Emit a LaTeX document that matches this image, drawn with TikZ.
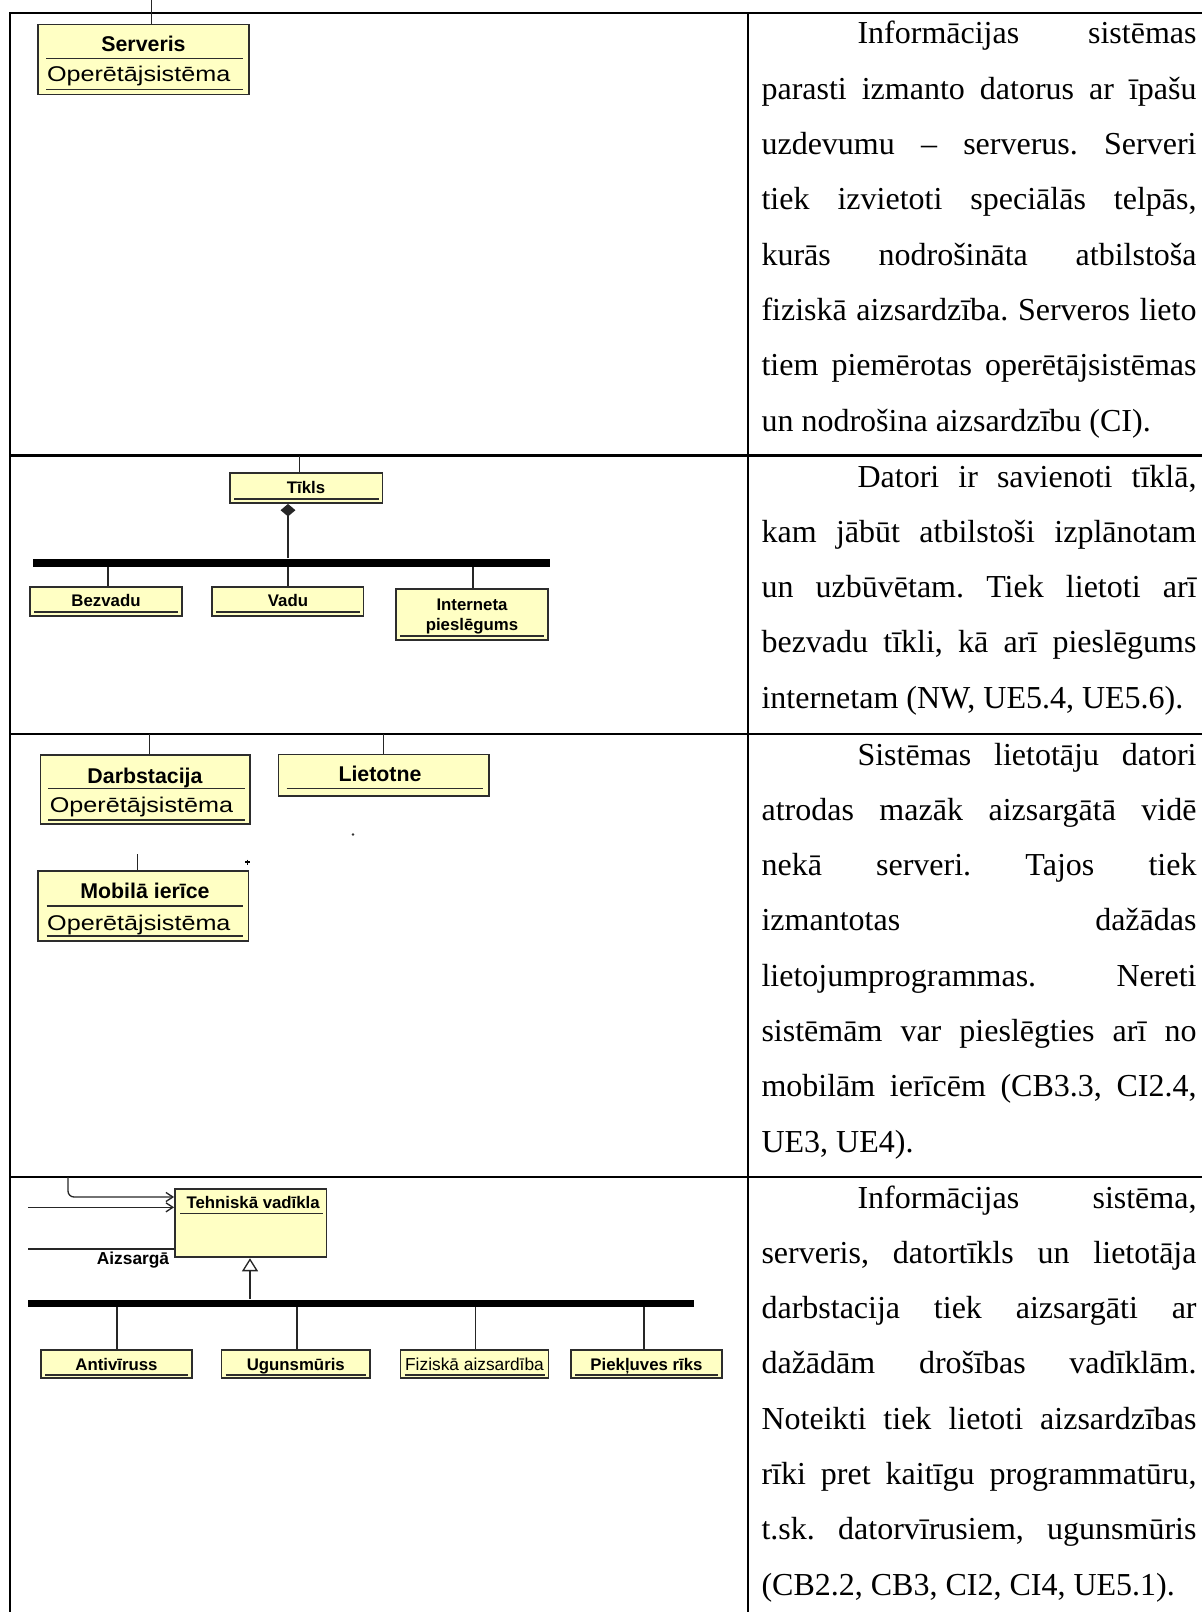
\documentclass[tikz,border=0pt]{standalone}
\usepackage{fontspec}
\setmainfont{Liberation Serif}
\newfontfamily\umlsans{Liberation Sans}
\newfontfamily\umlwide[FakeStretch=1.18]{Liberation Sans}
\usetikzlibrary{arrows.meta,fit,calc}

\definecolor{umlfill}{RGB}{255,255,196}
\definecolor{umledge}{RGB}{45,45,45}

\tikzset{
  umlbox/.style={draw=umledge, fill=umlfill, line width=0.7pt, inner sep=0pt},
  umlsep/.style={draw=umledge, line width=0.5pt},
  conn/.style={draw=black!85, line width=0.5pt},
  rule/.style={draw=black, line width=0.9pt},
  bus/.style={fill=black, inner sep=0pt},
  ttl/.style={font=\umlsans\bfseries\fontsize{8pt}{9pt}\selectfont, anchor=base, inner sep=0pt},
  attr/.style={font=\umlwide\fontsize{8pt}{9pt}\selectfont, anchor=base west, inner sep=0pt},
  lbl/.style={font=\umlsans\bfseries\fontsize{6.3pt}{7.5pt}\selectfont, anchor=base, inner sep=0pt},
  lblreg/.style={font=\umlsans\fontsize{6.5pt}{7.5pt}\selectfont, anchor=base, inner sep=0pt},
  para/.style={anchor=base west, inner sep=0pt},
  barb/.style={-{Straight Barb[length=2.6pt,width=3.4pt]}},
}

% box node spanning two corner points
\newcommand\umlrect[3]{\path #2 coordinate (#1-nw) #3 coordinate (#1-se);
  \node[umlbox, fit=(#1-nw)(#1-se)] (#1) {};}
\newcommand\busbar[3]{\path #2 coordinate (#1-nw) #3 coordinate (#1-se);
  \node[bus, fit=(#1-nw)(#1-se)] (#1) {};}
% justified body paragraph of the right column
\newcommand\bodytext[1]{\parbox[t]{163.125pt}{\fontsize{12pt}{20.74pt}\selectfont
  \frenchspacing\tolerance=10000\hbadness=10000\hyphenpenalty=10000\hspace*{36pt}#1}}

\begin{document}
\begin{tikzpicture}[x=0.375pt, y=-0.375pt]
\useasboundingbox (0,0) rectangle (1202,1612);

% table rules
\draw[rule] (10,1612) -- (10,13) -- (1202,13);
\draw[rule] (748,13) -- (748,1612);
\draw[rule] (10,455.5) -- (1202,455.5);
\draw[rule] (10,734) -- (1202,734);
\draw[rule] (10,1177) -- (1202,1177);

% ---- row 1: server
\umlrect{srv}{(38,24.5)}{(249,94.5)}
\draw[umlsep] (46,58.7) -- (243,58.7);
\draw[umlsep] (46,89.3) -- (243,89.3);
\node[ttl] (srv-t) at (143.5,52) {Serveris};
\node[attr] (srv-a) at (46.5,82) {Operētājsistēma};
\coordinate (srv-in) at (151.7,0);
\draw[conn] (srv-in) -- (srv-in |- srv.north);

% ---- row 2: network
\coordinate (net-in) at (299.5,455.5);
\umlrect{net}{(230,473)}{(382.5,503)}
\draw[umlsep] (234,499) -- (379,499);
\node[lbl] (net-t) at (306,493.3) {Tīkls};
\draw[conn] (net-in) -- (net-in |- net.north);
\busbar{bus2}{(33,559)}{(550,566.5)}
\coordinate (x2a) at (108,0);
\coordinate (x2b) at (288,0);
\coordinate (x2c) at (473,0);
\draw[conn, -{Diamond[length=4.7pt,width=5.6pt]}] (bus2.north -| x2b) -- (x2b |- net.south);
\umlrect{bez}{(30,587)}{(182,616)}
\umlrect{vad}{(212,587)}{(363.5,616)}
\umlrect{inet}{(396,589)}{(548,640)}
\draw[umlsep] (34,612) -- (178,612);
\draw[umlsep] (216,612) -- (359.5,612);
\draw[umlsep] (400,636) -- (544,636);
\node[lbl] (bez-t) at (106,606.5) {Bezvadu};
\node[lbl] (vad-t) at (288,606.5) {Vadu};
\node[lbl] (inet-t1) at (472,610) {Interneta};
\node[lbl] (inet-t2) at (472,630.7) {pieslēgums};
\draw[conn] (bus2.south -| x2a) -- (x2a |- bez.north);
\draw[conn] (bus2.south -| x2b) -- (x2b |- vad.north);
\draw[conn] (bus2.south -| x2c) -- (x2c |- inet.north);

% ---- row 3: workstation, application, mobile device
\umlrect{ws}{(40.5,755)}{(250,824.3)}
\draw[umlsep] (48.3,788.3) -- (245,788.3);
\draw[umlsep] (48.3,820) -- (245,820);
\node[ttl] (ws-t) at (145,783.3) {Darbstacija};
\node[attr] (ws-a) at (49.3,812.3) {Operētājsistēma};
\coordinate (ws-in) at (149.3,734);
\draw[conn] (ws-in) -- (ws-in |- ws.north);

\umlrect{app}{(278.5,754.5)}{(489,795.7)}
\draw[umlsep] (286.7,788.3) -- (483.3,788.3);
\node[ttl] (app-t) at (380,781.7) {Lietotne};
\coordinate (app-in) at (383.3,734);
\draw[conn] (app-in) -- (app-in |- app.north);

\fill[black!80] (353,834.5) circle[radius=0.5pt];

\umlrect{mob}{(38,870.7)}{(248.5,941)}
\draw[umlsep] (46.7,906) -- (243.3,906);
\draw[umlsep] (46.7,936) -- (243.3,936);
\node[ttl] (mob-t) at (145,898.3) {Mobilā ierīce};
\node[attr] (mob-a) at (46.7,930.7) {Operētājsistēma};
\coordinate (mob-in) at (137.3,854.3);
\draw[conn] (mob-in) -- (mob-in |- mob.north);
\draw[line width=0.4pt] (245,862) -- (250,862) (247.5,859.5) -- (247.5,864.5);

% ---- row 4: technical controls
\umlrect{tv}{(175,1189.3)}{(326.5,1257.3)}
\draw[umlsep] (180,1213.3) -- (322.7,1213.3);
\node[lbl, anchor=base west] (tv-t) at (186,1208.3) {Tehniskā vadīkla};

\coordinate (p1) at (68,1177);
\coordinate (p1y) at (0,1197);
\draw[conn, barb, rounded corners=2.25pt] (p1) |- (p1y -| tv.west);
\coordinate (p2) at (28,1207.3);
\draw[conn, barb] (p2) -- (p2 -| tv.west);
\coordinate (p3) at (28,1249);
\draw[conn] (p3) -- (p3 -| tv.west);
\node[lbl, font=\umlsans\bfseries\fontsize{6.5pt}{7.5pt}\selectfont] (prot) at (133,1264) {Aizsargā};

\busbar{bus4}{(28,1299.6)}{(694,1306.8)}
\coordinate (g) at (250,0);
\draw[conn, -{Triangle[open,length=4.9pt,width=6pt]}] (bus4.north -| g) -- (g |- tv.south);

\umlrect{anti}{(41,1350)}{(192,1378)}
\umlrect{ugun}{(221.5,1350)}{(370,1378)}
\umlrect{fiz}{(400.5,1350)}{(548.5,1378)}
\umlrect{piek}{(571,1350)}{(722,1378)}
\draw[umlsep] (45,1375) -- (188,1375);
\draw[umlsep] (225.5,1375) -- (366,1375);
\draw[umlsep] (404.5,1375) -- (544.5,1375);
\draw[umlsep] (575,1375) -- (718,1375);
\node[lbl] (anti-t) at (116.5,1370) {Antivīruss};
\node[lbl] (ugun-t) at (295.8,1370) {Ugunsmūris};
\node[lblreg] (fiz-t) at (474.5,1370) {Fiziskā aizsardība};
\node[lbl] (piek-t) at (646.5,1370) {Piekļuves rīks};
\coordinate (x4a) at (117,0);
\coordinate (x4b) at (297,0);
\coordinate (x4c) at (475.5,0);
\coordinate (x4d) at (644,0);
\draw[conn] (bus4.south -| x4a) -- (x4a |- anti.north);
\draw[conn] (bus4.south -| x4b) -- (x4b |- ugun.north);
\draw[conn] (bus4.south -| x4c) -- (x4c |- fiz.north);
\draw[conn] (bus4.south -| x4d) -- (x4d |- piek.north);

% ---- right column text
\node[para] (tx1) at (761,44) {\bodytext{Informācijas sistēmas\linebreak
parasti izmanto datorus ar īpašu\linebreak
uzdevumu – serverus. Serveri\linebreak
tiek izvietoti speciālās telpās,\linebreak
kurās nodrošināta atbilstoša\linebreak
fiziskā aizsardzība. Serveros lieto\linebreak
tiem piemērotas operētājsistēmas\linebreak
un nodrošina aizsardzību (CI).}};

\node[para] (tx2) at (761,487) {\bodytext{Datori ir savienoti tīklā,\linebreak
kam jābūt atbilstoši izplānotam\linebreak
un uzbūvētam. Tiek lietoti arī\linebreak
bezvadu tīkli, kā arī pieslēgums\linebreak
internetam (NW, UE5.4, UE5.6).}};

\node[para] (tx3) at (761,765) {\bodytext{Sistēmas lietotāju datori\linebreak
atrodas mazāk aizsargātā vidē\linebreak
nekā serveri. Tajos tiek\linebreak
izmantotas dažādas\linebreak
lietojumprogrammas. Nereti\linebreak
sistēmām var pieslēgties arī no\linebreak
mobilām ierīcēm (CB3.3, CI2.4,\linebreak
UE3, UE4).}};

\node[para] (tx4) at (761,1208) {\bodytext{Informācijas sistēma,\linebreak
serveris, datortīkls un lietotāja\linebreak
darbstacija tiek aizsargāti ar\linebreak
dažādām drošības vadīklām.\linebreak
Noteikti tiek lietoti aizsardzības\linebreak
rīki pret kaitīgu programmatūru,\linebreak
t.sk. datorvīrusiem, ugunsmūris\linebreak
(CB2.2, CB3, CI2, CI4, UE5.1).}};
\end{tikzpicture}
\end{document}
